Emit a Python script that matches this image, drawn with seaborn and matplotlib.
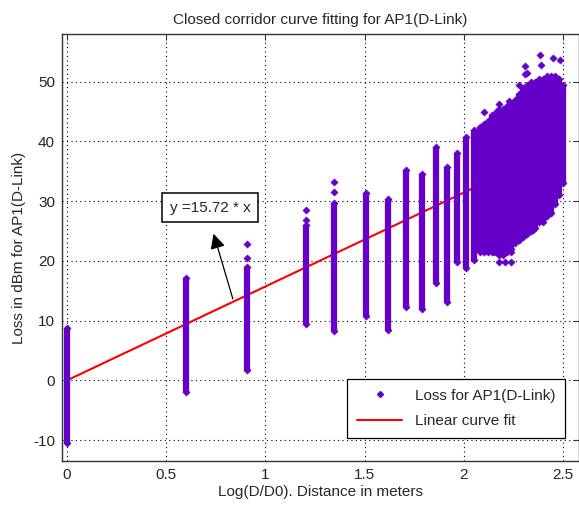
import numpy as np
import pandas as pd
import matplotlib
matplotlib.use("Agg")
import matplotlib.pyplot as plt
from matplotlib.lines import Line2D
import seaborn as sns

sns.set_style("white")
plt.rcParams['font.family'] = ['Liberation Sans', 'DejaVu Sans']
plt.rcParams['axes.unicode_minus'] = False

# === Measured columns: log10(D/D0) and loss range (dBm) ===
col_x = [0.00, 0.60, 0.905, 1.205, 1.345, 1.505, 1.62, 1.71, 1.79, 1.86, 1.915, 1.965, 2.01, 2.05,
         2.08, 2.10, 2.12, 2.14, 2.16, 2.18, 2.20, 2.22, 2.24, 2.26, 2.28,
         2.30, 2.32, 2.34, 2.36, 2.38, 2.40, 2.42, 2.44, 2.46, 2.48, 2.50]
col_low = [-10.5, -2.0, 1.8, 9.5, 8.3, 10.8, 8.5, 12.3, 12.0, 16.3, 13.2, 19.8, 18.8, 20.2,
           21.5, 21.5, 21.5, 21.5, 21.5, 21.0, 21.0, 21.5, 22.0, 23.0, 23.5,
           24.0, 24.5, 25.0, 25.5, 26.5, 27.0, 27.5, 28.0, 29.5, 31.0, 33.0]
col_high = [8.8, 17.2, 19.0, 26.0, 29.7, 31.3, 30.3, 35.3, 34.5, 39.0, 35.7, 38.0, 40.7, 42.0,
            42.5, 43.0, 43.5, 44.5, 45.0, 45.5, 45.5, 46.0, 46.5, 47.0, 48.0,
            49.0, 49.5, 50.0, 50.0, 50.5, 50.5, 51.0, 51.0, 51.0, 50.5, 49.5]

# isolated readings away from the dense part of a column
out_x = [0.905, 0.905, 1.205, 1.205, 1.345, 1.345, 2.10, 2.18, 2.23, 2.28, 2.31, 2.31, 2.32,
         2.385, 2.39, 2.45, 2.485, 2.09, 2.15, 2.18, 2.21, 2.24, 2.24, 2.28, 2.35, 2.40]
out_y = [22.8, 20.5, 28.5, 26.8, 33.2, 31.6, 45.0, 46.3, 46.7, 49.5, 52.7, 51.3, 51.5,
         54.5, 52.8, 54.0, 53.7, 21.8, 21.5, 19.8, 19.8, 19.8, 21.5, 23.5, 25.2, 26.5]

# linear fit through origin
slope = 15.72
fit_x = [0.0, 2.5]

purple = '#6400c8'
red = '#ff0000'
fs = 11

fig = plt.figure(figsize=(5.79, 5.08), dpi=100)
ax = fig.add_axes([0.1071, 0.0925, 0.893, 0.8406])

df_fit = pd.DataFrame({'x': fit_x, 'y': [slope * v for v in fit_x]})
sns.lineplot(data=df_fit, x='x', y='y', color=red, linewidth=1.5, ax=ax, zorder=2)

ax.vlines(col_x, col_low, col_high, color=purple, linewidth=4.5, zorder=3)
ends = pd.DataFrame({'x': col_x + col_x + out_x,
                     'y': col_low + col_high + out_y})
sns.scatterplot(data=ends, x='x', y='y', marker='D', s=14, color=purple,
                edgecolor=purple, linewidth=0.3, ax=ax, zorder=4)

# annotation
ax.annotate('', xy=(0.735, 25.0), xytext=(0.84, slope * 0.84),
            arrowprops=dict(arrowstyle='-|>,head_length=0.9,head_width=0.45',
                            color='black', lw=0.9), zorder=5)
ax.text(0.723, 28.9, 'y =15.72 * x', ha='center', va='center', fontsize=fs, zorder=6,
        bbox=dict(boxstyle='square,pad=0.5', facecolor='white', edgecolor='black', linewidth=1.1))

ax.set_xlim(-0.025, 2.581)
ax.set_ylim(-13.5, 58.0)
ax.set_xticks([0, 0.5, 1, 1.5, 2, 2.5])
ax.set_xticklabels(['0', '0.5', '1', '1.5', '2', '2.5'])
ax.set_yticks([-10, 0, 10, 20, 30, 40, 50])
ax.tick_params(direction='in', top=True, right=True, labelsize=fs, length=4,
               color='#333333', pad=5)
ax.grid(True, color='black', linestyle=(0, (1, 3)), linewidth=0.8)
ax.set_axisbelow(True)
for sp in ax.spines.values():
    sp.set_color('#333333')
    sp.set_linewidth(1.0)

ax.set_title('Closed corridor curve fitting for AP1(D-Link)', fontsize=fs, pad=7)
ax.set_xlabel('Log(D/D0). Distance in meters', fontsize=fs, labelpad=2)
ax.set_ylabel('Loss in dBm for AP1(D-Link)', fontsize=fs, labelpad=5)

handles = [Line2D([], [], marker='D', linestyle='', color=purple, markersize=3),
           Line2D([], [], color=red, linewidth=1.5)]
leg = ax.legend(handles, ['Loss for AP1(D-Link)', 'Linear curve fit'], loc='lower right',
                bbox_to_anchor=(0.973, 0.054), borderaxespad=0, fontsize=fs,
                handlelength=3.0, fancybox=False, framealpha=1, edgecolor='black',
                borderpad=0.65, labelspacing=0.75)
leg.get_frame().set_linewidth(0.9)
leg.set_zorder(10)

fig.savefig('out.png', dpi=100)
